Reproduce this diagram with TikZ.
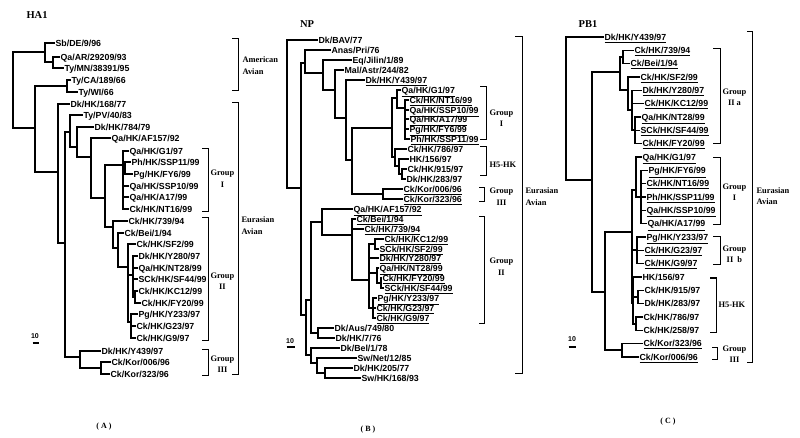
\documentclass[tikz,border=0pt]{standalone}
\usepackage{fontspec}
\setmainfont{Liberation Serif}
\setsansfont{Liberation Sans}
\usetikzlibrary{positioning}

\begin{document}
\begin{tikzpicture}[x=1pt,y=-1pt,line width=1.2pt,line cap=rect,
  leaf node/.style={anchor=west,inner xsep=1pt,inner ysep=0pt,text height=6.4pt,text depth=0pt,font=\sffamily\bfseries\fontsize{8.8}{9}\selectfont},
  group node/.style={anchor=west,inner sep=0pt,align=center,font=\rmfamily\bfseries\fontsize{8.4}{11.5}\selectfont},
  avian node/.style={anchor=west,inner sep=0pt,align=left,font=\rmfamily\bfseries\fontsize{8.4}{11.5}\selectfont},
  title node/.style={inner sep=0pt,font=\rmfamily\bfseries\fontsize{10.5}{12}\selectfont},
  panel node/.style={inner sep=0pt,font=\rmfamily\bfseries\fontsize{8}{9}\selectfont},
  scale node/.style={inner sep=0pt,font=\sffamily\bfseries\fontsize{7}{8}\selectfont},
  elbow/.style={to path={|- (\tikztotarget)}},
  bracket/.style={line width=1pt,line cap=butt}]

 \path[use as bounding box,fill=white] (0,0) rectangle (800,438);

 % HA1
 \node[title node] (ha) at (37,15) {HA1};
 \node[leaf node] (A1) at (54,43) {Sb/DE/9/96};
 \node[leaf node] (A2) at (59,57) {Qa/AR/29209/93};
 \node[leaf node] (A3) at (63,68) {Ty/MN/38391/95};
 \node[leaf node] (A4) at (70,80) {Ty/CA/189/66};
 \node[leaf node] (A5) at (77,92) {Ty/WI/66};
 \node[leaf node] (A6) at (69,104) {Dk/HK/168/77};
 \node[leaf node] (A7) at (82,115) {Ty/PV/40/83};
 \node[leaf node] (A8) at (93,127) {Dk/HK/784/79};
 \node[leaf node] (A9) at (110,138) {Qa/HK/AF157/92};
 \node[leaf node] (A10) at (128,151) {Qa/HK/G1/97};
 \node[leaf node] (A11) at (130,162) {Ph/HK/SSP11/99};
 \node[leaf node] (A12) at (132,174) {Pg/HK/FY6/99};
 \node[leaf node] (A13) at (128,186) {Qa/HK/SSP10/99};
 \node[leaf node] (A14) at (128,197) {Qa/HK/A17/99};
 \node[leaf node] (A15) at (128,209) {Ck/HK/NT16/99};
 \node[leaf node] (A16) at (127,221) {Ck/HK/739/94};
 \node[leaf node] (A17) at (123,233) {Ck/Bei/1/94};
 \node[leaf node] (A18) at (135,244) {Ck/HK/SF2/99};
 \node[leaf node] (A19) at (137,256) {Dk/HK/Y280/97};
 \node[leaf node] (A20) at (137,268) {Qa/HK/NT28/99};
 \node[leaf node] (A21) at (137,279) {SCk/HK/SF44/99};
 \node[leaf node] (A22) at (137,291) {Ck/HK/KC12/99};
 \node[leaf node] (A23) at (140,303) {Ck/HK/FY20/99};
 \node[leaf node] (A24) at (137,314) {Pg/HK/Y233/97};
 \node[leaf node] (A25) at (135,326) {Ck/HK/G23/97};
 \node[leaf node] (A26) at (135,338) {Ck/HK/G9/97};
 \node[leaf node] (A27) at (100,351) {Dk/HK/Y439/97};
 \node[leaf node] (A28) at (110,362) {Ck/Kor/006/96};
 \node[leaf node] (A29) at (109,374) {Ck/Kor/323/96};

 \coordinate (a-r) at (13,90);
 \coordinate (a-p) at (45,52);
 \coordinate (a-p2) at (53,62);
 \coordinate (a-q) at (35,128);
 \coordinate (a-t) at (67,86);
 \coordinate (a-a) at (58,172);
 \coordinate (a-b) at (65,243);
 \coordinate (a-c) at (70,132);
 \coordinate (a-d) at (77,147);
 \coordinate (a-e) at (91,157);
 \coordinate (a-f) at (105,198);
 \coordinate (a-g) at (123,165);
 \coordinate (a-g2) at (125,168);
 \coordinate (a-h) at (113,227);
 \coordinate (a-i) at (118,248);
 \coordinate (a-j) at (128,267);
 \coordinate (a-k) at (133,275);
 \coordinate (a-m) at (135,297);
 \coordinate (a-l) at (131,322);
 \coordinate (a-n) at (80,357);
 \coordinate (a-o) at (101,368);

 \path
    (a-r)	edge [elbow] (a-p) edge [elbow] (a-q)
    (a-p)	edge [elbow] (A1) edge [elbow] (a-p2)
    (a-p2)	edge [elbow] (A2) edge [elbow] (A3)
    (a-q)	edge [elbow] (a-t) edge [elbow] (a-a)
    (a-t)	edge [elbow] (A4) edge [elbow] (A5)
    (a-a)	edge [elbow] (A6) edge [elbow] (a-b)
    (a-b)	edge [elbow] (a-c) edge [elbow] (a-n)
    (a-c)	edge [elbow] (A7) edge [elbow] (a-d)
    (a-d)	edge [elbow] (A8) edge [elbow] (a-e)
    (a-e)	edge [elbow] (A9) edge [elbow] (a-f)
    (a-f)	edge [elbow] (a-g) edge [elbow] (a-h)
    (a-g)	edge [elbow] (A10) edge [elbow] (a-g2) edge [elbow] (A13) edge [elbow] (A14) edge [elbow] (A15)
    (a-g2)	edge [elbow] (A11) edge [elbow] (A12)
    (a-h)	edge [elbow] (A16) edge [elbow] (a-i)
    (a-i)	edge [elbow] (A17) edge [elbow] (a-j)
    (a-j)	edge [elbow] (A18) edge [elbow] (a-k) edge [elbow] (a-l)
    (a-k)	edge [elbow] (A19) edge [elbow] (A20) edge [elbow] (A21) edge [elbow] (a-m)
    (a-m)	edge [elbow] (A22) edge [elbow] (A23)
    (a-l)	edge [elbow] (A24) edge [elbow] (A25) edge [elbow] (A26)
    (a-n)	edge [elbow] (A27) edge [elbow] (a-o)
    (a-o)	edge [elbow] (A28) edge [elbow] (A29);

 \draw[bracket] (232,39) -- (238,39) -- (238,91) -- (232,91);
 \draw[bracket] (232,103) -- (238,103) -- (238,374) -- (232,374);
 \draw[bracket] (202,149) -- (208,149) -- (208,212) -- (202,212);
 \draw[bracket] (202,218) -- (208,218) -- (208,340) -- (202,340);
 \draw[bracket] (202,349) -- (208,349) -- (208,375) -- (202,375);
 \node[avian node] (a-am) at (242,65.5) {American\\Avian};
 \node[avian node] (a-eu) at (241,225.5) {Eurasian\\Avian};
 \node[group node] (a-gi) at (210,178.5) {Group\\I};
 \node[group node] (a-gii) at (210,281) {Group\\II};
 \node[group node] (a-giii) at (210,364) {Group\\III};
 \node[scale node] (a-10) at (35,336) {10};
 \draw[line width=1.6pt,line cap=butt] (32.5,343) -- (38.5,343);
 \node[panel node] (pa) at (104,427) {( A )};

 % NP
 \node[title node] (np) at (307,24) {NP};
 \node[leaf node] (B1) at (317,40) {Dk/BAV/77};
 \node[leaf node] (B2) at (330,50) {Anas/Pri/76};
 \node[leaf node] (B3) at (351,60) {Eq/Jilin/1/89};
 \node[leaf node] (B4) at (343,70) {Mal/Astr/244/82};
 \node[leaf node] (B5) at (364,80) {\underline{Dk/HK/Y439/97}};
 \node[leaf node] (B6) at (400,90) {\underline{Qa/HK/G1/97}};
 \node[leaf node] (B7) at (408,100) {\underline{Ck/HK/NT16/99}};
 \node[leaf node] (B8) at (408,110) {\underline{Qa/HK/SSP10/99}};
 \node[leaf node] (B9) at (408,119) {\underline{Qa/HK/A17/99}};
 \node[leaf node] (B10) at (408,129) {\underline{Pg/HK/FY6/99}};
 \node[leaf node] (B11) at (409,139) {\underline{Ph/HK/SSP11/99}};
 \node[leaf node] (B12) at (406,149) {Ck/HK/786/97};
 \node[leaf node] (B13) at (408,159) {HK/156/97};
 \node[leaf node] (B14) at (406,169) {Ck/HK/915/97};
 \node[leaf node] (B15) at (405,179) {Dk/HK/283/97};
 \node[leaf node] (B16) at (402,189) {\underline{Ck/Kor/006/96}};
 \node[leaf node] (B17) at (402,199) {\underline{Ck/Kor/323/96}};
 \node[leaf node] (B18) at (352,209) {\underline{Qa/HK/AF157/92}};
 \node[leaf node] (B19) at (355,219) {\underline{Ck/Bei/1/94}};
 \node[leaf node] (B20) at (363,229) {\underline{Ck/HK/739/94}};
 \node[leaf node] (B21) at (383,239) {\underline{Ck/HK/KC12/99}};
 \node[leaf node] (B22) at (378,249) {\underline{SCk/HK/SF2/99}};
 \node[leaf node] (B23) at (378,258) {\underline{Dk/HK/Y280/97}};
 \node[leaf node] (B24) at (378,268) {\underline{Qa/HK/NT28/99}};
 \node[leaf node] (B25) at (381,278) {\underline{Ck/HK/FY20/99}};
 \node[leaf node] (B26) at (383,288) {\underline{SCk/HK/SF44/99}};
 \node[leaf node] (B27) at (376,298) {\underline{Pg/HK/Y233/97}};
 \node[leaf node] (B28) at (375,308) {\underline{Ck/HK/G23/97}};
 \node[leaf node] (B29) at (375,318) {\underline{Ck/HK/G9/97}};
 \node[leaf node] (B30) at (333,328) {Dk/Aus/749/80};
 \node[leaf node] (B31) at (334,338) {Dk/HK/7/76};
 \node[leaf node] (B32) at (339,348) {Dk/Bel/1/78};
 \node[leaf node] (B33) at (356,358) {Sw/Net/12/85};
 \node[leaf node] (B34) at (352,368) {Dk/HK/205/77};
 \node[leaf node] (B35) at (360,378) {Sw/HK/168/93};

 \coordinate (b-r) at (287,114);
 \coordinate (b-a) at (301,188);
 \coordinate (b-anas) at (305,63);
 \coordinate (b-eq) at (323,73);
 \coordinate (b-mal) at (335,90);
 \coordinate (b-y439) at (346,118);
 \coordinate (b-big) at (352,160);
 \coordinate (b-mid) at (392,128);
 \coordinate (b-g1) at (397,98);
 \coordinate (b-g1b) at (405,108);
 \coordinate (b-h5) at (395,157);
 \coordinate (b-h5b) at (399,166);
 \coordinate (b-h5c) at (402,174);
 \coordinate (b-kor) at (383,194);
 \coordinate (b-low) at (306,315);
 \coordinate (b-afaus) at (311,300);
 \coordinate (b-af) at (322,222);
 \coordinate (b-ii) at (352,235);
 \coordinate (b-iic) at (369,280);
 \coordinate (b-kc) at (375,244);
 \coordinate (b-nt) at (377,273);
 \coordinate (b-fy) at (381,283);
 \coordinate (b-y233) at (373,308);
 \coordinate (b-aus) at (318,333);
 \coordinate (b-bel) at (311,355);
 \coordinate (b-net) at (317,363);
 \coordinate (b-205) at (325,373);

 \path
    (b-r)	edge [elbow] (B1) edge [elbow] (b-a)
    (b-a)	edge [elbow] (b-anas) edge [elbow] (b-low)
    (b-anas)	edge [elbow] (B2) edge [elbow] (b-eq)
    (b-eq)	edge [elbow] (B3) edge [elbow] (b-mal)
    (b-mal)	edge [elbow] (B4) edge [elbow] (b-y439)
    (b-y439)	edge [elbow] (B5) edge [elbow] (b-big)
    (b-big)	edge [elbow] (b-mid) edge [elbow] (b-kor)
    (b-mid)	edge [elbow] (b-g1) edge [elbow] (b-h5)
    (b-g1)	edge [elbow] (B6) edge [elbow] (b-g1b)
    (b-g1b)	edge [elbow] (B7) edge [elbow] (B8) edge [elbow] (B9) edge [elbow] (B10) edge [elbow] (B11)
    (b-h5)	edge [elbow] (B12) edge [elbow] (b-h5b)
    (b-h5b)	edge [elbow] (B13) edge [elbow] (b-h5c)
    (b-h5c)	edge [elbow] (B14) edge [elbow] (B15)
    (b-kor)	edge [elbow] (B16) edge [elbow] (B17)
    (b-low)	edge [elbow] (b-afaus) edge [elbow] (b-bel)
    (b-afaus)	edge [elbow] (b-af) edge [elbow] (b-aus)
    (b-af)	edge [elbow] (B18) edge [elbow] (b-ii)
    (b-ii)	edge [elbow] (B19) edge [elbow] (B20) edge [elbow] (b-iic)
    (b-iic)	edge [elbow] (b-kc) edge [elbow] (B23) edge [elbow] (b-nt) edge [elbow] (b-y233)
    (b-kc)	edge [elbow] (B21) edge [elbow] (B22)
    (b-nt)	edge [elbow] (B24) edge [elbow] (b-fy)
    (b-fy)	edge [elbow] (B25) edge [elbow] (B26)
    (b-y233)	edge [elbow] (B27) edge [elbow] (B28) edge [elbow] (B29)
    (b-aus)	edge [elbow] (B30) edge [elbow] (B31)
    (b-bel)	edge [elbow] (B32) edge [elbow] (b-net)
    (b-net)	edge [elbow] (B33) edge [elbow] (b-205)
    (b-205)	edge [elbow] (B34) edge [elbow] (B35);

 \draw[bracket] (480,87) -- (486,87) -- (486,140) -- (480,140);
 \draw[bracket] (480,147) -- (486,147) -- (486,176) -- (480,176);
 \draw[bracket] (479,188) -- (484,188) -- (484,202) -- (479,202);
 \draw[bracket] (479,217) -- (484,217) -- (484,323) -- (479,323);
 \draw[bracket] (515,37) -- (522,37) -- (522,373) -- (515,373);
 \node[group node] (b-gi) at (489,118) {Group\\I};
 \node[group node] (b-h5k) at (489,165) {H5-HK};
 \node[group node] (b-giii) at (489,196.5) {Group\\III};
 \node[group node] (b-gii) at (489,266.5) {Group\\II};
 \node[avian node] (b-eu) at (525,196.5) {Eurasian\\Avian};
 \node[scale node] (b-10) at (290,341) {10};
 \draw[line width=1.6pt,line cap=butt] (286.5,347) -- (294.5,347);
 \node[panel node] (pb) at (368,430) {( B )};

 % PB1
 \node[title node] (pb1) at (588,24) {PB1};
 \node[leaf node] (C1) at (603,37) {\underline{Dk/HK/Y439/97}};
 \node[leaf node] (C2) at (633,50.3) {\underline{Ck/HK/739/94}};
 \node[leaf node] (C3) at (629,63.7) {\underline{Ck/Bei/1/94}};
 \node[leaf node] (C4) at (639,77) {\underline{Ck/HK/SF2/99}};
 \node[leaf node] (C5) at (641,90.3) {\underline{Dk/HK/Y280/97}};
 \node[leaf node] (C6) at (643,103.7) {\underline{Ck/HK/KC12/99}};
 \node[leaf node] (C7) at (640,117) {\underline{Qa/HK/NT28/99}};
 \node[leaf node] (C8) at (639,130.3) {\underline{SCk/HK/SF44/99}};
 \node[leaf node] (C9) at (641,143.7) {\underline{Ck/HK/FY20/99}};
 \node[leaf node] (C10) at (641,157) {\underline{Qa/HK/G1/97}};
 \node[leaf node] (C11) at (647,170.3) {\underline{Pg/HK/FY6/99}};
 \node[leaf node] (C12) at (645,183.7) {\underline{Ck/HK/NT16/99}};
 \node[leaf node] (C13) at (645,197) {\underline{Ph/HK/SSP11/99}};
 \node[leaf node] (C14) at (645,210.3) {\underline{Qa/HK/SSP10/99}};
 \node[leaf node] (C15) at (646,223.7) {\underline{Qa/HK/A17/99}};
 \node[leaf node] (C16) at (645,237) {\underline{Pg/HK/Y233/97}};
 \node[leaf node] (C17) at (643,250.3) {\underline{Ck/HK/G23/97}};
 \node[leaf node] (C18) at (643,263.7) {\underline{Ck/HK/G9/97}};
 \node[leaf node] (C19) at (641,277) {HK/156/97};
 \node[leaf node] (C20) at (643,290.3) {Ck/HK/915/97};
 \node[leaf node] (C21) at (643,303.7) {Dk/HK/283/97};
 \node[leaf node] (C22) at (642,317) {Ck/HK/786/97};
 \node[leaf node] (C23) at (642,330.3) {Ck/HK/258/97};
 \node[leaf node] (C24) at (642,343.7) {\underline{Ck/Kor/323/96}};
 \node[leaf node] (C25) at (638,357) {\underline{Ck/Kor/006/96}};

 \coordinate (c-r) at (566,108);
 \coordinate (c-1) at (592,180);
 \coordinate (c-iia) at (620,72);
 \coordinate (c-739) at (623,57);
 \coordinate (c-sf) at (628,90);
 \coordinate (c-iib) at (632,110);
 \coordinate (c-nt) at (635,130);
 \coordinate (c-2) at (605,292);
 \coordinate (c-3) at (632,232);
 \coordinate (c-gi) at (636,190);
 \coordinate (c-gib) at (641,197);
 \coordinate (c-y233) at (637,250);
 \coordinate (c-h5) at (633,303);
 \coordinate (c-915) at (638,297);
 \coordinate (c-786) at (636,324);
 \coordinate (c-kor) at (622,350);

 \path
    (c-r)	edge [elbow] (C1) edge [elbow] (c-1)
    (c-1)	edge [elbow] (c-iia) edge [elbow] (c-2)
    (c-iia)	edge [elbow] (c-739) edge [elbow] (c-sf)
    (c-739)	edge [elbow] (C2) edge [elbow] (C3)
    (c-sf)	edge [elbow] (C4) edge [elbow] (c-iib)
    (c-iib)	edge [elbow] (C5) edge [elbow] (C6) edge [elbow] (c-nt)
    (c-nt)	edge [elbow] (C7) edge [elbow] (C8) edge [elbow] (C9)
    (c-2)	edge [elbow] (c-3) edge [elbow] (c-kor)
    (c-3)	edge [elbow] (c-gi) edge [elbow] (c-y233) edge [elbow] (c-h5)
    (c-gi)	edge [elbow] (C10) edge [elbow] (c-gib)
    (c-gib)	edge [elbow] (C11) edge [elbow] (C12) edge [elbow] (C13) edge [elbow] (C14) edge [elbow] (C15)
    (c-y233)	edge [elbow] (C16) edge [elbow] (C17) edge [elbow] (C18)
    (c-h5)	edge [elbow] (C19) edge [elbow] (c-915) edge [elbow] (c-786)
    (c-915)	edge [elbow] (C20) edge [elbow] (C21)
    (c-786)	edge [elbow] (C22) edge [elbow] (C23)
    (c-kor)	edge [elbow] (C24) edge [elbow] (C25);

 \draw[bracket] (713,49) -- (720,49) -- (720,144) -- (713,144);
 \draw[bracket] (713,158) -- (720,158) -- (720,225) -- (713,225);
 \draw[bracket] (713,237) -- (720,237) -- (720,265) -- (713,265);
 \draw[bracket] (710,278) -- (716,278) -- (716,332) -- (710,332);
 \draw[bracket] (712,347) -- (717,347) -- (717,359) -- (712,359);
 \draw[bracket] (747,32) -- (752,32) -- (752,362) -- (747,362);
 \node[group node] (c-giia) at (722,97.5) {Group\\II a};
 \node[group node] (c-gi-t) at (722,192) {Group\\I};
 \node[group node] (c-giib) at (722,254.5) {Group\\II\ \ b};
 \node[group node] (c-h5k) at (718,305) {H5-HK};
 \node[group node] (c-giii) at (722,354) {Group\\III};
 \node[avian node] (c-eu) at (756,196) {Eurasian\\Avian};
 \node[scale node] (c-10) at (572,339) {10};
 \draw[line width=1.6pt,line cap=butt] (568.5,347) -- (575.5,347);
 \node[panel node] (pc) at (668,422) {( C )};

\end{tikzpicture}
\end{document}
